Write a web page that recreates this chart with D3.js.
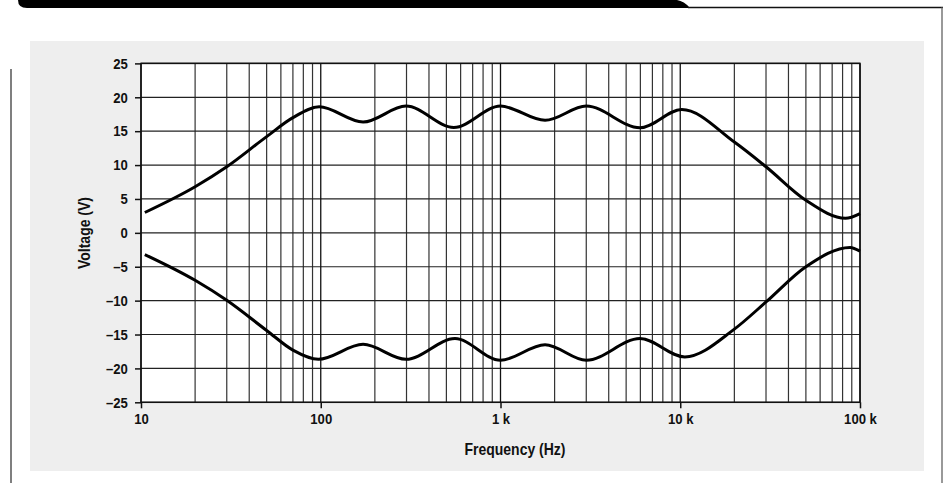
<!DOCTYPE html>
<html lang="en">
<head>
  <meta charset="UTF-8">
  <title>Voltage vs Frequency</title>
  <script src="https://d3js.org/d3.v7.min.js"></script>
  <style>
    body {
      margin: 0;
      padding: 0;
      background: #fff;
    }
    text {
      font-family: "Liberation Sans", Arial, sans-serif;
      font-weight: bold;
      fill: #111;
    }
    .tick text {
      font-size: 15px;
    }
    .axis-title {
      font-size: 16px;
    }
  </style>
</head>
<body>
  <div id="chart"></div>
  <script>
    const width = 943, height = 483;
    const narrow = 0.875; // condensed look for the labels

    // upper envelope (V) against frequency (Hz): slope points, then peaks and dips
    const upperFreq = [10.5, 20, 30, 50, 70, 98, 172, 298, 550, 1000, 1770, 3000, 5970, 10200, 20000, 30000, 50000, 83000, 100000];
    const upperVolt = [3.0, 6.8, 9.75, 14.2, 17.0, 18.6, 16.35, 18.7, 15.55, 18.7, 16.6, 18.7, 15.5, 18.2, 13.4, 9.75, 4.8, 2.15, 2.85];

    // lower envelope (V) against frequency (Hz)
    const lowerFreq = [10.5, 20, 30, 50, 70, 97, 172, 298, 558, 1000, 1770, 3000, 5970, 10600, 20000, 30000, 50000, 88000, 100000];
    const lowerVolt = [-3.2, -7.0, -9.95, -14.4, -17.3, -18.65, -16.45, -18.65, -15.6, -18.8, -16.5, -18.8, -15.6, -18.3, -14.2, -10.2, -5.0, -2.15, -2.7];

    const xTicks = [10, 100, 1000, 10000, 100000];
    const xTickLabels = ["10", "100", "1 k", "10 k", "100 k"];
    const yTicks = [-25, -20, -15, -10, -5, 0, 5, 10, 15, 20, 25];

    const plot = { left: 141, right: 860, top: 63.4, bottom: 402.3 };

    const svg = d3.select("#chart")
      .append("svg")
      .attr("width", width)
      .attr("height", height);

    // page decoration: header tab and frame lines
    svg.append("path")
      .attr("d", "M18,0 H677 Q684,1 690,8 H27 Q18,8 18,0 Z")
      .attr("fill", "#000");
    svg.append("line")
      .attr("x1", 688).attr("x2", 943).attr("y1", 7.5).attr("y2", 7.5)
      .attr("stroke", "#111").attr("stroke-width", 1.5);
    svg.append("line")
      .attr("x1", 942).attr("x2", 942).attr("y1", 7.5).attr("y2", height)
      .attr("stroke", "#777").attr("stroke-width", 1.5);
    svg.append("line")
      .attr("x1", 11).attr("x2", 11).attr("y1", 69).attr("y2", height)
      .attr("stroke", "#555").attr("stroke-width", 1.5);

    svg.append("rect")
      .attr("x", 30).attr("y", 41)
      .attr("width", 894).attr("height", 430)
      .attr("fill", "#eeeeee");

    const x = d3.scaleLog()
      .domain([10, 100000])
      .range([plot.left, plot.right]);

    const y = d3.scaleLinear()
      .domain([-25, 25])
      .range([plot.bottom, plot.top]);

    svg.append("rect")
      .attr("x", plot.left).attr("y", plot.top)
      .attr("width", plot.right - plot.left)
      .attr("height", plot.bottom - plot.top)
      .attr("fill", "#fff");

    // grid: every 1..9 per decade, every 5 V
    const gridFreq = [];
    for (let d = 10; d < 100000; d *= 10) {
      for (let m = 2; m <= 9; m++) gridFreq.push(d * m);
    }
    svg.append("g")
      .selectAll("line")
      .data(gridFreq)
      .join("line")
      .attr("x1", d => x(d)).attr("x2", d => x(d))
      .attr("y1", plot.top).attr("y2", plot.bottom)
      .attr("stroke", "#333")
      .attr("stroke-width", 1.2);

    svg.append("g")
      .selectAll("line")
      .data(yTicks)
      .join("line")
      .attr("x1", plot.left).attr("x2", plot.right)
      .attr("y1", d => y(d)).attr("y2", d => y(d))
      .attr("stroke", "#222")
      .attr("stroke-width", 1.2);

    svg.append("g")
      .selectAll("line")
      .data(xTicks)
      .join("line")
      .attr("x1", d => x(d)).attr("x2", d => x(d))
      .attr("y1", plot.top).attr("y2", plot.bottom)
      .attr("stroke", "#111")
      .attr("stroke-width", 1.3);

    svg.append("rect")
      .attr("x", plot.left).attr("y", plot.top)
      .attr("width", plot.right - plot.left)
      .attr("height", plot.bottom - plot.top)
      .attr("fill", "none")
      .attr("stroke", "#111")
      .attr("stroke-width", 1.5);

    // axes
    const yAxis = d3.axisLeft(y)
      .tickValues(yTicks)
      .tickSize(6)
      .tickPadding(9)
      .tickFormat(d => d < 0 ? "\u2013" + Math.abs(d) : String(d));

    const yG = svg.append("g")
      .attr("transform", `translate(${plot.left},0)`)
      .call(yAxis);

    const xAxis = d3.axisBottom(x)
      .tickValues(xTicks)
      .tickSize(6)
      .tickPadding(5)
      .tickFormat((d, i) => xTickLabels[i]);

    const xG = svg.append("g")
      .attr("transform", `translate(0,${plot.bottom})`)
      .call(xAxis);

    [yG, xG].forEach(g => {
      g.select(".domain").remove();
      g.selectAll(".tick line").attr("stroke", "#111").attr("stroke-width", 1.5);
      g.selectAll(".tick text")
        .attr("fill", "#111")
        .attr("transform", `scale(${narrow},1)`);
    });

    // curves
    const line = d3.line()
      .x(d => x(d[0]))
      .y(d => y(d[1]))
      .curve(d3.curveMonotoneX);

    const upper = d3.zip(upperFreq, upperVolt);
    const lower = d3.zip(lowerFreq, lowerVolt);

    svg.selectAll(".curve")
      .data([upper, lower])
      .join("path")
      .attr("class", "curve")
      .attr("d", line)
      .attr("fill", "none")
      .attr("stroke", "#000")
      .attr("stroke-width", 3);

    // titles
    svg.append("text")
      .attr("class", "axis-title")
      .attr("transform", `translate(90,233) rotate(-90) scale(${narrow},1)`)
      .attr("text-anchor", "middle")
      .text("Voltage (V)");

    svg.append("text")
      .attr("class", "axis-title")
      .attr("transform", `translate(515,455) scale(${narrow},1)`)
      .attr("text-anchor", "middle")
      .text("Frequency (Hz)");
  </script>
</body>
</html>
